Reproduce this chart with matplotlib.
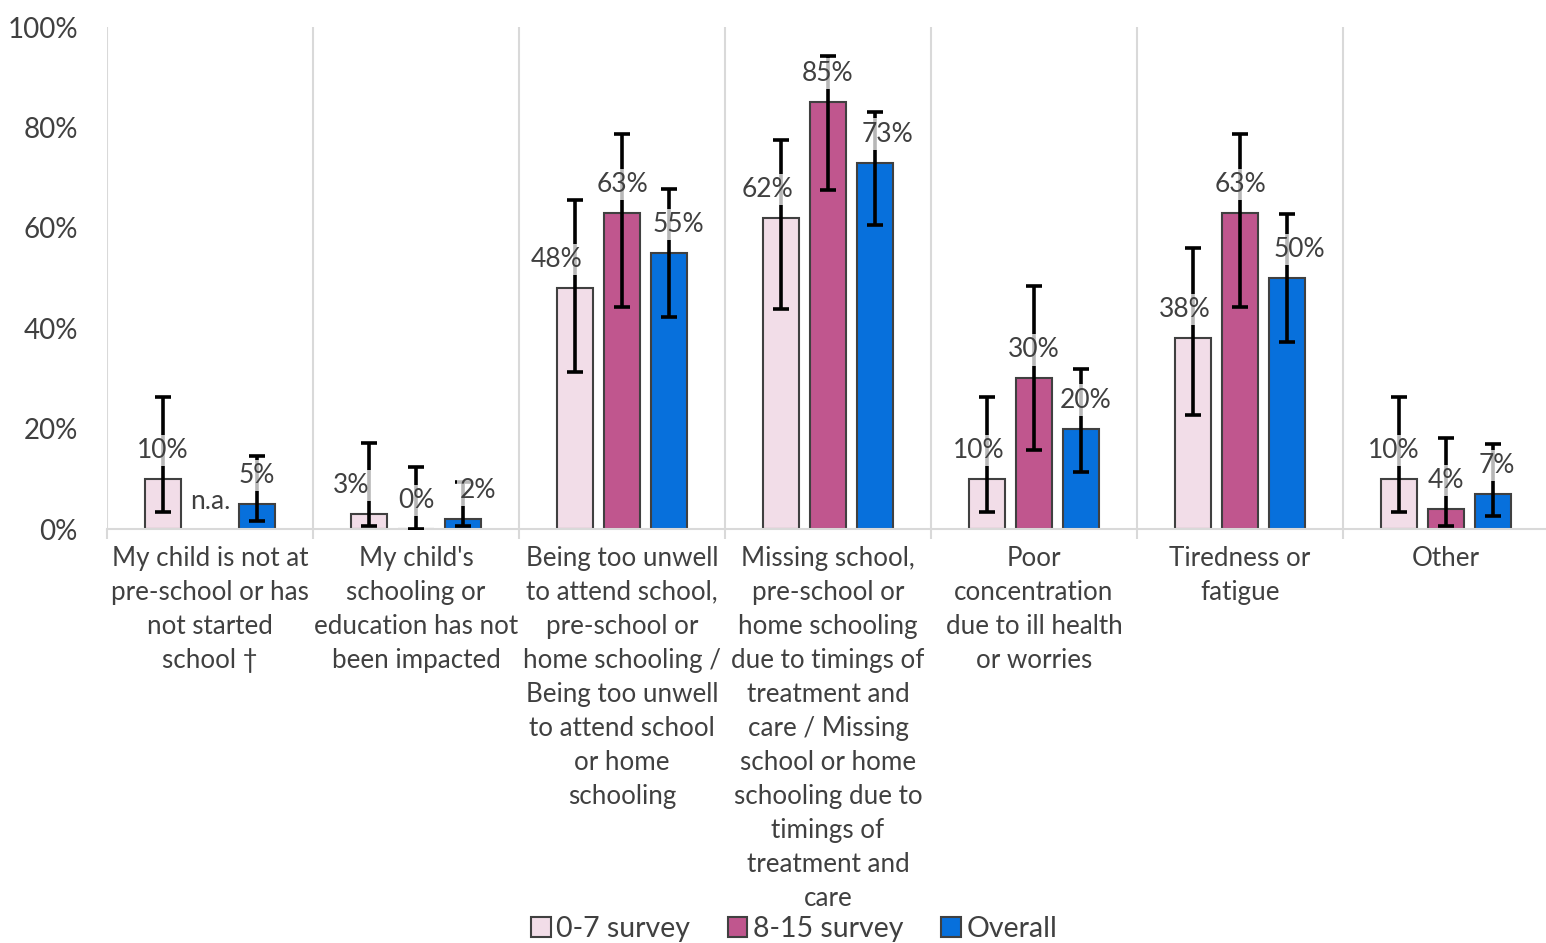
import numpy as np
import matplotlib
matplotlib.use("Agg")
import matplotlib.pyplot as plt

plt.rcParams['font.family'] = ['Lato', 'DejaVu Sans']

categories = [
    "My child is not at\npre-school or has\nnot started\nschool \u2020",
    "My child's\nschooling or\neducation has not\nbeen impacted",
    "Being too unwell\nto attend school,\npre-school or\nhome schooling /\nBeing too unwell\nto attend school\nor home\nschooling",
    "Missing school,\npre-school or\nhome schooling\ndue to timings of\ntreatment and\ncare / Missing\nschool or home\nschooling due to\ntimings of\ntreatment and\ncare",
    "Poor\nconcentration\ndue to ill health\nor worries",
    "Tiredness or\nfatigue",
    "Other",
]
series_names = ["0-7 survey", "8-15 survey", "Overall"]

# percentages (None = not asked)
survey_0_7 = [10, 3, 48, 62, 10, 38, 10]
survey_8_15 = [None, 0, 63, 85, 30, 63, 4]
overall = [5, 2, 55, 73, 20, 50, 7]

# confidence intervals (lower, upper)
low_0_7 = [3.4, 0.6, 31.3, 43.8, 3.4, 22.7, 3.4]
high_0_7 = [26.3, 17.1, 65.5, 77.4, 26.3, 56.0, 26.3]
low_8_15 = [None, 0.0, 44.2, 67.5, 15.7, 44.2, 0.6]
high_8_15 = [None, 12.4, 78.7, 94.3, 48.4, 78.7, 18.1]
low_overall = [1.6, 0.6, 42.2, 60.5, 11.4, 37.3, 2.6]
high_overall = [14.5, 9.4, 67.7, 83.1, 31.9, 62.7, 16.9]

colors = ["#F2DDE8", "#C0568E", "#0770DC"]
# horizontal nudges for the data labels (points)
label_nudge = [
    [0, -13, -13, -10, -6, -6, -4],
    [0, 0, 0, 0, 0, 0, 0],
    [0, 11, 7, 9, 3, 9, 3],
]

text_col = "#404040"
grid_col = "#D9D9D9"
fs = 19

fig = plt.figure(figsize=(15.46, 9.43), dpi=100)
ax = fig.add_axes([107 / 1546, 1 - 529 / 943, 1442 / 1546, 502 / 943])

x = np.arange(len(categories))
offsets = [-0.228, 0.0, 0.228]
width = 0.172

all_vals = [survey_0_7, survey_8_15, overall]
all_low = [low_0_7, low_8_15, low_overall]
all_high = [high_0_7, high_8_15, high_overall]

for s in range(3):
    vals = all_vals[s]
    idx = [i for i, v in enumerate(vals) if v is not None]
    xs = x[idx] + offsets[s]
    v = np.array([vals[i] for i in idx], dtype=float)
    lo = np.array([all_low[s][i] for i in idx], dtype=float)
    hi = np.array([all_high[s][i] for i in idx], dtype=float)
    ax.bar(xs, v, width, color=colors[s], edgecolor="#404040", linewidth=1.5,
           label=series_names[s], zorder=2)
    ax.errorbar(xs, v, yerr=[v - lo, hi - v], fmt="none", ecolor="black",
                elinewidth=2.6, capsize=5.5, capthick=2.6, zorder=3)
    for xi, vi, i in zip(xs, v, idx):
        ax.annotate(f"{vi:.0f}%", (xi, vi), xytext=(label_nudge[s][i], 20.5),
                    textcoords="offset points", ha="center", va="center",
                    fontsize=fs, color=text_col, zorder=4,
                    bbox=dict(boxstyle="square,pad=0.12", fc="white", ec="none", alpha=0.72))

# not asked marker
ax.annotate("n.a.", (x[0] + offsets[1], 0), xytext=(0, 20), textcoords="offset points",
            ha="center", va="center", fontsize=fs, color=text_col)

ax.set_xlim(-0.5, len(categories) - 0.5)
ax.set_ylim(0, 100)
ax.set_yticks(np.arange(0, 101, 20))
ax.set_yticklabels([f"{t}%" for t in range(0, 101, 20)])
ax.set_xticks(x)
ax.set_xticklabels(categories, fontsize=18.7, color=text_col, linespacing=1.45)
ax.set_xticks(np.arange(-0.5, len(categories), 1), minor=True)
ax.tick_params(axis="x", which="major", length=0, pad=12)
ax.tick_params(axis="x", which="minor", length=7, color=grid_col, width=1.5)
ax.tick_params(axis="y", length=0, pad=21, labelsize=20, labelcolor=text_col)
ax.xaxis.grid(True, which="minor", color=grid_col, linewidth=1.5, zorder=0)
ax.set_axisbelow(True)
for side in ["top", "right", "left"]:
    ax.spines[side].set_visible(False)
ax.spines["bottom"].set_color(grid_col)
ax.spines["bottom"].set_linewidth(1.5)

fig.legend(loc="center", bbox_to_anchor=(794 / 1546, 1 - 929 / 943), ncol=3, frameon=False,
           fontsize=20.5, labelcolor=text_col, handlelength=0.7, handleheight=0.7,
           handletextpad=0.2, columnspacing=1.3)

fig.savefig("out.png", dpi=100)
